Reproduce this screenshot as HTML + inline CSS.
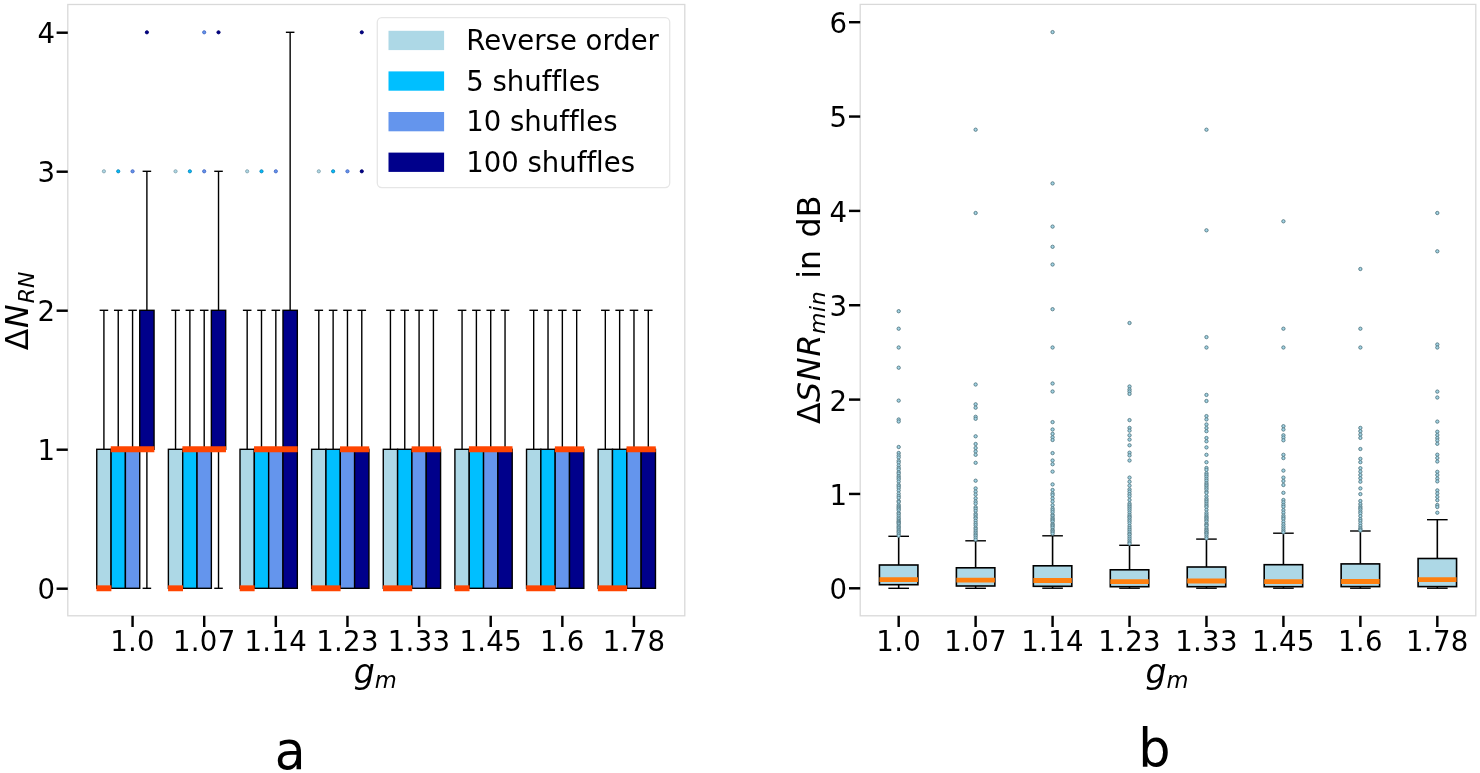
<!DOCTYPE html>
<html lang="en"><head><meta charset="utf-8"><title>Figure</title>
<style>html,body{margin:0;padding:0;background:#fff}body{width:1480px;height:773px;overflow:hidden}</style>
</head><body>
<svg width="1480" height="773" viewBox="0 0 1480 773" style="display:block;will-change:transform;font-variant-ligatures:none;font-family:'DejaVu Sans', 'Liberation Sans', sans-serif">
<rect x="0" y="0" width="1480" height="773" fill="#ffffff"/>
<g id="axA">
<line x1="103.91" y1="449.30" x2="103.91" y2="310.30" stroke="#000" stroke-width="1.4"/>
<line x1="100.33" y1="310.30" x2="107.50" y2="310.30" stroke="#000" stroke-width="1.4" stroke-linecap="square"/>
<line x1="100.33" y1="588.30" x2="107.50" y2="588.30" stroke="#000" stroke-width="1.4" stroke-linecap="square"/>
<rect x="96.75" y="449.30" width="14.33" height="139.00" fill="#add8e6" stroke="#000" stroke-width="1.4"/>
<circle cx="103.91" cy="171.30" r="1.6" fill="#add8e6" stroke="#86a5b0" stroke-width="0.9"/>
<line x1="118.24" y1="449.30" x2="118.24" y2="310.30" stroke="#000" stroke-width="1.4"/>
<line x1="114.66" y1="310.30" x2="121.82" y2="310.30" stroke="#000" stroke-width="1.4" stroke-linecap="square"/>
<line x1="114.66" y1="588.30" x2="121.82" y2="588.30" stroke="#000" stroke-width="1.4" stroke-linecap="square"/>
<rect x="111.08" y="449.30" width="14.33" height="139.00" fill="#00bfff" stroke="#000" stroke-width="1.4"/>
<circle cx="118.24" cy="171.30" r="1.6" fill="#00bfff" stroke="#0f84b8" stroke-width="0.9"/>
<line x1="132.57" y1="449.30" x2="132.57" y2="310.30" stroke="#000" stroke-width="1.4"/>
<line x1="128.99" y1="310.30" x2="136.15" y2="310.30" stroke="#000" stroke-width="1.4" stroke-linecap="square"/>
<line x1="128.99" y1="588.30" x2="136.15" y2="588.30" stroke="#000" stroke-width="1.4" stroke-linecap="square"/>
<rect x="125.40" y="449.30" width="14.33" height="139.00" fill="#6495ed" stroke="#000" stroke-width="1.4"/>
<circle cx="132.57" cy="171.30" r="1.6" fill="#6495ed" stroke="#4468c4" stroke-width="0.9"/>
<line x1="146.89" y1="310.30" x2="146.89" y2="171.30" stroke="#000" stroke-width="1.4"/>
<line x1="143.31" y1="171.30" x2="150.47" y2="171.30" stroke="#000" stroke-width="1.4" stroke-linecap="square"/>
<line x1="146.89" y1="449.30" x2="146.89" y2="588.30" stroke="#000" stroke-width="1.4"/>
<line x1="143.31" y1="588.30" x2="150.47" y2="588.30" stroke="#000" stroke-width="1.4" stroke-linecap="square"/>
<rect x="139.73" y="310.30" width="14.33" height="139.00" fill="#00008b" stroke="#000" stroke-width="1.4"/>
<circle cx="146.89" cy="32.30" r="1.6" fill="#00008b" stroke="#00006a" stroke-width="0.9"/>
<line x1="175.54" y1="449.30" x2="175.54" y2="310.30" stroke="#000" stroke-width="1.4"/>
<line x1="171.96" y1="310.30" x2="179.13" y2="310.30" stroke="#000" stroke-width="1.4" stroke-linecap="square"/>
<line x1="171.96" y1="588.30" x2="179.13" y2="588.30" stroke="#000" stroke-width="1.4" stroke-linecap="square"/>
<rect x="168.38" y="449.30" width="14.33" height="139.00" fill="#add8e6" stroke="#000" stroke-width="1.4"/>
<circle cx="175.54" cy="171.30" r="1.6" fill="#add8e6" stroke="#86a5b0" stroke-width="0.9"/>
<line x1="189.87" y1="449.30" x2="189.87" y2="310.30" stroke="#000" stroke-width="1.4"/>
<line x1="186.29" y1="310.30" x2="193.45" y2="310.30" stroke="#000" stroke-width="1.4" stroke-linecap="square"/>
<line x1="186.29" y1="588.30" x2="193.45" y2="588.30" stroke="#000" stroke-width="1.4" stroke-linecap="square"/>
<rect x="182.71" y="449.30" width="14.33" height="139.00" fill="#00bfff" stroke="#000" stroke-width="1.4"/>
<circle cx="189.87" cy="171.30" r="1.6" fill="#00bfff" stroke="#0f84b8" stroke-width="0.9"/>
<line x1="204.20" y1="449.30" x2="204.20" y2="310.30" stroke="#000" stroke-width="1.4"/>
<line x1="200.62" y1="310.30" x2="207.78" y2="310.30" stroke="#000" stroke-width="1.4" stroke-linecap="square"/>
<line x1="200.62" y1="588.30" x2="207.78" y2="588.30" stroke="#000" stroke-width="1.4" stroke-linecap="square"/>
<rect x="197.03" y="449.30" width="14.33" height="139.00" fill="#6495ed" stroke="#000" stroke-width="1.4"/>
<circle cx="204.20" cy="171.30" r="1.6" fill="#6495ed" stroke="#4468c4" stroke-width="0.9"/>
<circle cx="204.20" cy="32.30" r="1.6" fill="#6495ed" stroke="#4468c4" stroke-width="0.9"/>
<line x1="218.52" y1="310.30" x2="218.52" y2="171.30" stroke="#000" stroke-width="1.4"/>
<line x1="214.94" y1="171.30" x2="222.10" y2="171.30" stroke="#000" stroke-width="1.4" stroke-linecap="square"/>
<line x1="218.52" y1="449.30" x2="218.52" y2="588.30" stroke="#000" stroke-width="1.4"/>
<line x1="214.94" y1="588.30" x2="222.10" y2="588.30" stroke="#000" stroke-width="1.4" stroke-linecap="square"/>
<rect x="211.36" y="310.30" width="14.33" height="139.00" fill="#00008b" stroke="#000" stroke-width="1.4"/>
<circle cx="218.52" cy="32.30" r="1.6" fill="#00008b" stroke="#00006a" stroke-width="0.9"/>
<line x1="247.17" y1="449.30" x2="247.17" y2="310.30" stroke="#000" stroke-width="1.4"/>
<line x1="243.59" y1="310.30" x2="250.76" y2="310.30" stroke="#000" stroke-width="1.4" stroke-linecap="square"/>
<line x1="243.59" y1="588.30" x2="250.76" y2="588.30" stroke="#000" stroke-width="1.4" stroke-linecap="square"/>
<rect x="240.01" y="449.30" width="14.33" height="139.00" fill="#add8e6" stroke="#000" stroke-width="1.4"/>
<circle cx="247.17" cy="171.30" r="1.6" fill="#add8e6" stroke="#86a5b0" stroke-width="0.9"/>
<line x1="261.50" y1="449.30" x2="261.50" y2="310.30" stroke="#000" stroke-width="1.4"/>
<line x1="257.92" y1="310.30" x2="265.08" y2="310.30" stroke="#000" stroke-width="1.4" stroke-linecap="square"/>
<line x1="257.92" y1="588.30" x2="265.08" y2="588.30" stroke="#000" stroke-width="1.4" stroke-linecap="square"/>
<rect x="254.34" y="449.30" width="14.33" height="139.00" fill="#00bfff" stroke="#000" stroke-width="1.4"/>
<circle cx="261.50" cy="171.30" r="1.6" fill="#00bfff" stroke="#0f84b8" stroke-width="0.9"/>
<line x1="275.83" y1="449.30" x2="275.83" y2="310.30" stroke="#000" stroke-width="1.4"/>
<line x1="272.25" y1="310.30" x2="279.41" y2="310.30" stroke="#000" stroke-width="1.4" stroke-linecap="square"/>
<line x1="272.25" y1="588.30" x2="279.41" y2="588.30" stroke="#000" stroke-width="1.4" stroke-linecap="square"/>
<rect x="268.66" y="449.30" width="14.33" height="139.00" fill="#6495ed" stroke="#000" stroke-width="1.4"/>
<circle cx="275.83" cy="171.30" r="1.6" fill="#6495ed" stroke="#4468c4" stroke-width="0.9"/>
<line x1="290.15" y1="310.30" x2="290.15" y2="32.30" stroke="#000" stroke-width="1.4"/>
<line x1="286.57" y1="32.30" x2="293.73" y2="32.30" stroke="#000" stroke-width="1.4" stroke-linecap="square"/>
<line x1="286.57" y1="588.30" x2="293.73" y2="588.30" stroke="#000" stroke-width="1.4" stroke-linecap="square"/>
<rect x="282.99" y="310.30" width="14.33" height="278.00" fill="#00008b" stroke="#000" stroke-width="1.4"/>
<line x1="318.80" y1="449.30" x2="318.80" y2="310.30" stroke="#000" stroke-width="1.4"/>
<line x1="315.22" y1="310.30" x2="322.39" y2="310.30" stroke="#000" stroke-width="1.4" stroke-linecap="square"/>
<line x1="315.22" y1="588.30" x2="322.39" y2="588.30" stroke="#000" stroke-width="1.4" stroke-linecap="square"/>
<rect x="311.64" y="449.30" width="14.33" height="139.00" fill="#add8e6" stroke="#000" stroke-width="1.4"/>
<circle cx="318.80" cy="171.30" r="1.6" fill="#add8e6" stroke="#86a5b0" stroke-width="0.9"/>
<line x1="333.13" y1="449.30" x2="333.13" y2="310.30" stroke="#000" stroke-width="1.4"/>
<line x1="329.55" y1="310.30" x2="336.71" y2="310.30" stroke="#000" stroke-width="1.4" stroke-linecap="square"/>
<line x1="329.55" y1="588.30" x2="336.71" y2="588.30" stroke="#000" stroke-width="1.4" stroke-linecap="square"/>
<rect x="325.97" y="449.30" width="14.33" height="139.00" fill="#00bfff" stroke="#000" stroke-width="1.4"/>
<circle cx="333.13" cy="171.30" r="1.6" fill="#00bfff" stroke="#0f84b8" stroke-width="0.9"/>
<line x1="347.46" y1="449.30" x2="347.46" y2="310.30" stroke="#000" stroke-width="1.4"/>
<line x1="343.88" y1="310.30" x2="351.04" y2="310.30" stroke="#000" stroke-width="1.4" stroke-linecap="square"/>
<line x1="343.88" y1="588.30" x2="351.04" y2="588.30" stroke="#000" stroke-width="1.4" stroke-linecap="square"/>
<rect x="340.29" y="449.30" width="14.33" height="139.00" fill="#6495ed" stroke="#000" stroke-width="1.4"/>
<circle cx="347.46" cy="171.30" r="1.6" fill="#6495ed" stroke="#4468c4" stroke-width="0.9"/>
<line x1="361.78" y1="449.30" x2="361.78" y2="310.30" stroke="#000" stroke-width="1.4"/>
<line x1="358.20" y1="310.30" x2="365.36" y2="310.30" stroke="#000" stroke-width="1.4" stroke-linecap="square"/>
<line x1="358.20" y1="588.30" x2="365.36" y2="588.30" stroke="#000" stroke-width="1.4" stroke-linecap="square"/>
<rect x="354.62" y="449.30" width="14.33" height="139.00" fill="#00008b" stroke="#000" stroke-width="1.4"/>
<circle cx="361.78" cy="171.30" r="1.6" fill="#00008b" stroke="#00006a" stroke-width="0.9"/>
<circle cx="361.78" cy="32.30" r="1.6" fill="#00008b" stroke="#00006a" stroke-width="0.9"/>
<line x1="390.43" y1="449.30" x2="390.43" y2="310.30" stroke="#000" stroke-width="1.4"/>
<line x1="386.85" y1="310.30" x2="394.02" y2="310.30" stroke="#000" stroke-width="1.4" stroke-linecap="square"/>
<line x1="386.85" y1="588.30" x2="394.02" y2="588.30" stroke="#000" stroke-width="1.4" stroke-linecap="square"/>
<rect x="383.27" y="449.30" width="14.33" height="139.00" fill="#add8e6" stroke="#000" stroke-width="1.4"/>
<line x1="404.76" y1="449.30" x2="404.76" y2="310.30" stroke="#000" stroke-width="1.4"/>
<line x1="401.18" y1="310.30" x2="408.34" y2="310.30" stroke="#000" stroke-width="1.4" stroke-linecap="square"/>
<line x1="401.18" y1="588.30" x2="408.34" y2="588.30" stroke="#000" stroke-width="1.4" stroke-linecap="square"/>
<rect x="397.60" y="449.30" width="14.33" height="139.00" fill="#00bfff" stroke="#000" stroke-width="1.4"/>
<line x1="419.09" y1="449.30" x2="419.09" y2="310.30" stroke="#000" stroke-width="1.4"/>
<line x1="415.51" y1="310.30" x2="422.67" y2="310.30" stroke="#000" stroke-width="1.4" stroke-linecap="square"/>
<line x1="415.51" y1="588.30" x2="422.67" y2="588.30" stroke="#000" stroke-width="1.4" stroke-linecap="square"/>
<rect x="411.92" y="449.30" width="14.33" height="139.00" fill="#6495ed" stroke="#000" stroke-width="1.4"/>
<line x1="433.41" y1="449.30" x2="433.41" y2="310.30" stroke="#000" stroke-width="1.4"/>
<line x1="429.83" y1="310.30" x2="436.99" y2="310.30" stroke="#000" stroke-width="1.4" stroke-linecap="square"/>
<line x1="429.83" y1="588.30" x2="436.99" y2="588.30" stroke="#000" stroke-width="1.4" stroke-linecap="square"/>
<rect x="426.25" y="449.30" width="14.33" height="139.00" fill="#00008b" stroke="#000" stroke-width="1.4"/>
<line x1="462.06" y1="449.30" x2="462.06" y2="310.30" stroke="#000" stroke-width="1.4"/>
<line x1="458.48" y1="310.30" x2="465.65" y2="310.30" stroke="#000" stroke-width="1.4" stroke-linecap="square"/>
<line x1="458.48" y1="588.30" x2="465.65" y2="588.30" stroke="#000" stroke-width="1.4" stroke-linecap="square"/>
<rect x="454.90" y="449.30" width="14.33" height="139.00" fill="#add8e6" stroke="#000" stroke-width="1.4"/>
<line x1="476.39" y1="449.30" x2="476.39" y2="310.30" stroke="#000" stroke-width="1.4"/>
<line x1="472.81" y1="310.30" x2="479.97" y2="310.30" stroke="#000" stroke-width="1.4" stroke-linecap="square"/>
<line x1="472.81" y1="588.30" x2="479.97" y2="588.30" stroke="#000" stroke-width="1.4" stroke-linecap="square"/>
<rect x="469.23" y="449.30" width="14.33" height="139.00" fill="#00bfff" stroke="#000" stroke-width="1.4"/>
<line x1="490.72" y1="449.30" x2="490.72" y2="310.30" stroke="#000" stroke-width="1.4"/>
<line x1="487.14" y1="310.30" x2="494.30" y2="310.30" stroke="#000" stroke-width="1.4" stroke-linecap="square"/>
<line x1="487.14" y1="588.30" x2="494.30" y2="588.30" stroke="#000" stroke-width="1.4" stroke-linecap="square"/>
<rect x="483.55" y="449.30" width="14.33" height="139.00" fill="#6495ed" stroke="#000" stroke-width="1.4"/>
<line x1="505.04" y1="449.30" x2="505.04" y2="310.30" stroke="#000" stroke-width="1.4"/>
<line x1="501.46" y1="310.30" x2="508.62" y2="310.30" stroke="#000" stroke-width="1.4" stroke-linecap="square"/>
<line x1="501.46" y1="588.30" x2="508.62" y2="588.30" stroke="#000" stroke-width="1.4" stroke-linecap="square"/>
<rect x="497.88" y="449.30" width="14.33" height="139.00" fill="#00008b" stroke="#000" stroke-width="1.4"/>
<line x1="533.69" y1="449.30" x2="533.69" y2="310.30" stroke="#000" stroke-width="1.4"/>
<line x1="530.11" y1="310.30" x2="537.28" y2="310.30" stroke="#000" stroke-width="1.4" stroke-linecap="square"/>
<line x1="530.11" y1="588.30" x2="537.28" y2="588.30" stroke="#000" stroke-width="1.4" stroke-linecap="square"/>
<rect x="526.53" y="449.30" width="14.33" height="139.00" fill="#add8e6" stroke="#000" stroke-width="1.4"/>
<line x1="548.02" y1="449.30" x2="548.02" y2="310.30" stroke="#000" stroke-width="1.4"/>
<line x1="544.44" y1="310.30" x2="551.60" y2="310.30" stroke="#000" stroke-width="1.4" stroke-linecap="square"/>
<line x1="544.44" y1="588.30" x2="551.60" y2="588.30" stroke="#000" stroke-width="1.4" stroke-linecap="square"/>
<rect x="540.86" y="449.30" width="14.33" height="139.00" fill="#00bfff" stroke="#000" stroke-width="1.4"/>
<line x1="562.35" y1="449.30" x2="562.35" y2="310.30" stroke="#000" stroke-width="1.4"/>
<line x1="558.77" y1="310.30" x2="565.93" y2="310.30" stroke="#000" stroke-width="1.4" stroke-linecap="square"/>
<line x1="558.77" y1="588.30" x2="565.93" y2="588.30" stroke="#000" stroke-width="1.4" stroke-linecap="square"/>
<rect x="555.18" y="449.30" width="14.33" height="139.00" fill="#6495ed" stroke="#000" stroke-width="1.4"/>
<line x1="576.67" y1="449.30" x2="576.67" y2="310.30" stroke="#000" stroke-width="1.4"/>
<line x1="573.09" y1="310.30" x2="580.25" y2="310.30" stroke="#000" stroke-width="1.4" stroke-linecap="square"/>
<line x1="573.09" y1="588.30" x2="580.25" y2="588.30" stroke="#000" stroke-width="1.4" stroke-linecap="square"/>
<rect x="569.51" y="449.30" width="14.33" height="139.00" fill="#00008b" stroke="#000" stroke-width="1.4"/>
<line x1="605.32" y1="449.30" x2="605.32" y2="310.30" stroke="#000" stroke-width="1.4"/>
<line x1="601.74" y1="310.30" x2="608.91" y2="310.30" stroke="#000" stroke-width="1.4" stroke-linecap="square"/>
<line x1="601.74" y1="588.30" x2="608.91" y2="588.30" stroke="#000" stroke-width="1.4" stroke-linecap="square"/>
<rect x="598.16" y="449.30" width="14.33" height="139.00" fill="#add8e6" stroke="#000" stroke-width="1.4"/>
<line x1="619.65" y1="449.30" x2="619.65" y2="310.30" stroke="#000" stroke-width="1.4"/>
<line x1="616.07" y1="310.30" x2="623.23" y2="310.30" stroke="#000" stroke-width="1.4" stroke-linecap="square"/>
<line x1="616.07" y1="588.30" x2="623.23" y2="588.30" stroke="#000" stroke-width="1.4" stroke-linecap="square"/>
<rect x="612.49" y="449.30" width="14.33" height="139.00" fill="#00bfff" stroke="#000" stroke-width="1.4"/>
<line x1="633.98" y1="449.30" x2="633.98" y2="310.30" stroke="#000" stroke-width="1.4"/>
<line x1="630.40" y1="310.30" x2="637.56" y2="310.30" stroke="#000" stroke-width="1.4" stroke-linecap="square"/>
<line x1="630.40" y1="588.30" x2="637.56" y2="588.30" stroke="#000" stroke-width="1.4" stroke-linecap="square"/>
<rect x="626.81" y="449.30" width="14.33" height="139.00" fill="#6495ed" stroke="#000" stroke-width="1.4"/>
<line x1="648.30" y1="449.30" x2="648.30" y2="310.30" stroke="#000" stroke-width="1.4"/>
<line x1="644.72" y1="310.30" x2="651.88" y2="310.30" stroke="#000" stroke-width="1.4" stroke-linecap="square"/>
<line x1="644.72" y1="588.30" x2="651.88" y2="588.30" stroke="#000" stroke-width="1.4" stroke-linecap="square"/>
<rect x="641.14" y="449.30" width="14.33" height="139.00" fill="#00008b" stroke="#000" stroke-width="1.4"/>
<line x1="96.45" y1="588.30" x2="111.38" y2="588.30" stroke="#ff4500" stroke-width="5.9"/>
<line x1="110.78" y1="449.30" x2="154.36" y2="449.30" stroke="#ff4500" stroke-width="5.9"/>
<line x1="168.08" y1="588.30" x2="183.01" y2="588.30" stroke="#ff4500" stroke-width="5.9"/>
<line x1="182.41" y1="449.30" x2="225.99" y2="449.30" stroke="#ff4500" stroke-width="5.9"/>
<line x1="239.71" y1="588.30" x2="254.64" y2="588.30" stroke="#ff4500" stroke-width="5.9"/>
<line x1="254.04" y1="449.30" x2="297.62" y2="449.30" stroke="#ff4500" stroke-width="5.9"/>
<line x1="311.34" y1="588.30" x2="340.59" y2="588.30" stroke="#ff4500" stroke-width="5.9"/>
<line x1="339.99" y1="449.30" x2="369.25" y2="449.30" stroke="#ff4500" stroke-width="5.9"/>
<line x1="382.97" y1="588.30" x2="412.22" y2="588.30" stroke="#ff4500" stroke-width="5.9"/>
<line x1="411.62" y1="449.30" x2="440.88" y2="449.30" stroke="#ff4500" stroke-width="5.9"/>
<line x1="454.60" y1="588.30" x2="469.53" y2="588.30" stroke="#ff4500" stroke-width="5.9"/>
<line x1="468.93" y1="449.30" x2="512.51" y2="449.30" stroke="#ff4500" stroke-width="5.9"/>
<line x1="526.23" y1="588.30" x2="555.48" y2="588.30" stroke="#ff4500" stroke-width="5.9"/>
<line x1="554.88" y1="449.30" x2="584.14" y2="449.30" stroke="#ff4500" stroke-width="5.9"/>
<line x1="597.86" y1="588.30" x2="627.11" y2="588.30" stroke="#ff4500" stroke-width="5.9"/>
<line x1="626.51" y1="449.30" x2="655.77" y2="449.30" stroke="#ff4500" stroke-width="5.9"/>
</g>
<g id="legend">
<rect x="377.3" y="17.6" width="292.4" height="170" rx="4.5" ry="4.5" fill="#ffffff" fill-opacity="0.8" stroke="#e6e6e6" stroke-width="1.3"/>
<rect x="388.5" y="30.80" width="55.6" height="19.3" fill="#add8e6"/>
<text x="466.3" y="50.10" font-size="27.5" letter-spacing="0.0" fill="#000">Reverse order</text>
<rect x="388.5" y="71.40" width="55.6" height="19.3" fill="#00bfff"/>
<text x="466.3" y="90.70" font-size="27.5" letter-spacing="0.0" fill="#000">5 shuffles</text>
<rect x="388.5" y="112.00" width="55.6" height="19.3" fill="#6495ed"/>
<text x="466.3" y="131.30" font-size="27.5" letter-spacing="0.0" fill="#000">10 shuffles</text>
<rect x="388.5" y="152.60" width="55.6" height="19.3" fill="#00008b"/>
<text x="466.3" y="171.90" font-size="27.5" letter-spacing="0.0" fill="#000">100 shuffles</text>
</g>
<rect x="67.8" y="4.5" width="617.00" height="611.30" fill="none" stroke="#d9d9d9" stroke-width="1.3"/>
<line x1="132.57" y1="615.8" x2="132.57" y2="627.0" stroke="#000" stroke-width="2.45"/>
<text x="132.57" y="650.8" font-size="27.6" text-anchor="middle" letter-spacing="0.3" fill="#000">1.0</text>
<line x1="204.20" y1="615.8" x2="204.20" y2="627.0" stroke="#000" stroke-width="2.45"/>
<text x="204.20" y="650.8" font-size="27.6" text-anchor="middle" letter-spacing="0.3" fill="#000">1.07</text>
<line x1="275.83" y1="615.8" x2="275.83" y2="627.0" stroke="#000" stroke-width="2.45"/>
<text x="275.83" y="650.8" font-size="27.6" text-anchor="middle" letter-spacing="0.3" fill="#000">1.14</text>
<line x1="347.46" y1="615.8" x2="347.46" y2="627.0" stroke="#000" stroke-width="2.45"/>
<text x="347.46" y="650.8" font-size="27.6" text-anchor="middle" letter-spacing="0.3" fill="#000">1.23</text>
<line x1="419.09" y1="615.8" x2="419.09" y2="627.0" stroke="#000" stroke-width="2.45"/>
<text x="419.09" y="650.8" font-size="27.6" text-anchor="middle" letter-spacing="0.3" fill="#000">1.33</text>
<line x1="490.72" y1="615.8" x2="490.72" y2="627.0" stroke="#000" stroke-width="2.45"/>
<text x="490.72" y="650.8" font-size="27.6" text-anchor="middle" letter-spacing="0.3" fill="#000">1.45</text>
<line x1="562.35" y1="615.8" x2="562.35" y2="627.0" stroke="#000" stroke-width="2.45"/>
<text x="562.35" y="650.8" font-size="27.6" text-anchor="middle" letter-spacing="0.3" fill="#000">1.6</text>
<line x1="633.98" y1="615.8" x2="633.98" y2="627.0" stroke="#000" stroke-width="2.45"/>
<text x="633.98" y="650.8" font-size="27.6" text-anchor="middle" letter-spacing="0.3" fill="#000">1.78</text>
<line x1="56.599999999999994" y1="588.70" x2="67.8" y2="588.70" stroke="#000" stroke-width="2.45"/>
<text x="55.0" y="599.20" font-size="27.6" text-anchor="end" fill="#000">0</text>
<line x1="56.599999999999994" y1="449.70" x2="67.8" y2="449.70" stroke="#000" stroke-width="2.45"/>
<text x="55.0" y="460.20" font-size="27.6" text-anchor="end" fill="#000">1</text>
<line x1="56.599999999999994" y1="310.70" x2="67.8" y2="310.70" stroke="#000" stroke-width="2.45"/>
<text x="55.0" y="321.20" font-size="27.6" text-anchor="end" fill="#000">2</text>
<line x1="56.599999999999994" y1="171.70" x2="67.8" y2="171.70" stroke="#000" stroke-width="2.45"/>
<text x="55.0" y="182.20" font-size="27.6" text-anchor="end" fill="#000">3</text>
<line x1="56.599999999999994" y1="32.70" x2="67.8" y2="32.70" stroke="#000" stroke-width="2.45"/>
<text x="55.0" y="43.20" font-size="27.6" text-anchor="end" fill="#000">4</text>
<text x="375.3" y="683" font-size="33.3" text-anchor="middle" fill="#000"><tspan font-style="italic">g</tspan><tspan font-style="italic" font-size="22.6" dy="5">m</tspan></text>
<text transform="translate(28.0,350.3) rotate(-90)" font-size="31.6" fill="#000"><tspan x="0">Δ</tspan><tspan font-style="italic" x="22.4" dy="-0.1">N</tspan><tspan font-style="italic" font-size="22.0" x="47.0" dy="6.1">RN</tspan></text>
<g id="axB">
<line x1="898.68" y1="565.0" x2="898.68" y2="536.3" stroke="#000" stroke-width="1.6"/>
<line x1="898.68" y1="584.7" x2="898.68" y2="588.3" stroke="#000" stroke-width="1.6"/>
<line x1="889.06" y1="536.3" x2="908.29" y2="536.3" stroke="#000" stroke-width="1.4" stroke-linecap="square"/>
<line x1="889.06" y1="588.3" x2="908.29" y2="588.3" stroke="#000" stroke-width="1.4" stroke-linecap="square"/>
<rect x="879.44" y="565.0" width="38.48" height="19.70" fill="#add8e6" stroke="#000" stroke-width="1.6"/>
<line x1="879.44" y1="579.7" x2="917.91" y2="579.7" stroke="#ff7f0e" stroke-width="4.8"/>
<circle cx="898.68" cy="311.2" r="1.65" fill="#a2d5e7" stroke="#5a7c86" stroke-width="0.95"/>
<circle cx="898.68" cy="328.7" r="1.65" fill="#a2d5e7" stroke="#5a7c86" stroke-width="0.95"/>
<circle cx="898.68" cy="347.5" r="1.65" fill="#a2d5e7" stroke="#5a7c86" stroke-width="0.95"/>
<circle cx="898.68" cy="367.7" r="1.65" fill="#a2d5e7" stroke="#5a7c86" stroke-width="0.95"/>
<circle cx="898.68" cy="400.6" r="1.65" fill="#a2d5e7" stroke="#5a7c86" stroke-width="0.95"/>
<circle cx="898.68" cy="419.5" r="1.65" fill="#a2d5e7" stroke="#5a7c86" stroke-width="0.95"/>
<circle cx="898.68" cy="421.5" r="1.65" fill="#a2d5e7" stroke="#5a7c86" stroke-width="0.95"/>
<circle cx="898.68" cy="447.0" r="1.65" fill="#a2d5e7" stroke="#5a7c86" stroke-width="0.95"/>
<circle cx="898.68" cy="453" r="1.65" fill="#a2d5e7" stroke="#5a7c86" stroke-width="0.95"/>
<circle cx="898.68" cy="455.5" r="1.65" fill="#a2d5e7" stroke="#5a7c86" stroke-width="0.95"/>
<circle cx="898.68" cy="457.5" r="1.65" fill="#a2d5e7" stroke="#5a7c86" stroke-width="0.95"/>
<circle cx="898.68" cy="460.8" r="1.65" fill="#a2d5e7" stroke="#5a7c86" stroke-width="0.95"/>
<circle cx="898.68" cy="462.6" r="1.65" fill="#a2d5e7" stroke="#5a7c86" stroke-width="0.95"/>
<circle cx="898.68" cy="465.5" r="1.65" fill="#a2d5e7" stroke="#5a7c86" stroke-width="0.95"/>
<circle cx="898.68" cy="467.9" r="1.65" fill="#a2d5e7" stroke="#5a7c86" stroke-width="0.95"/>
<circle cx="898.68" cy="469.5" r="1.65" fill="#a2d5e7" stroke="#5a7c86" stroke-width="0.95"/>
<circle cx="898.68" cy="472.2" r="1.65" fill="#a2d5e7" stroke="#5a7c86" stroke-width="0.95"/>
<circle cx="898.68" cy="473.7" r="1.65" fill="#a2d5e7" stroke="#5a7c86" stroke-width="0.95"/>
<circle cx="898.68" cy="476.1" r="1.65" fill="#a2d5e7" stroke="#5a7c86" stroke-width="0.95"/>
<circle cx="898.68" cy="477.7" r="1.65" fill="#a2d5e7" stroke="#5a7c86" stroke-width="0.95"/>
<circle cx="898.68" cy="479.3" r="1.65" fill="#a2d5e7" stroke="#5a7c86" stroke-width="0.95"/>
<circle cx="898.68" cy="481.6" r="1.65" fill="#a2d5e7" stroke="#5a7c86" stroke-width="0.95"/>
<circle cx="898.68" cy="484.7" r="1.65" fill="#a2d5e7" stroke="#5a7c86" stroke-width="0.95"/>
<circle cx="898.68" cy="486.2" r="1.65" fill="#a2d5e7" stroke="#5a7c86" stroke-width="0.95"/>
<circle cx="898.68" cy="488.0" r="1.65" fill="#a2d5e7" stroke="#5a7c86" stroke-width="0.95"/>
<circle cx="898.68" cy="490.5" r="1.65" fill="#a2d5e7" stroke="#5a7c86" stroke-width="0.95"/>
<circle cx="898.68" cy="493.6" r="1.65" fill="#a2d5e7" stroke="#5a7c86" stroke-width="0.95"/>
<circle cx="898.68" cy="496.0" r="1.65" fill="#a2d5e7" stroke="#5a7c86" stroke-width="0.95"/>
<circle cx="898.68" cy="497.9" r="1.65" fill="#a2d5e7" stroke="#5a7c86" stroke-width="0.95"/>
<circle cx="898.68" cy="500.9" r="1.65" fill="#a2d5e7" stroke="#5a7c86" stroke-width="0.95"/>
<circle cx="898.68" cy="502.0" r="1.65" fill="#a2d5e7" stroke="#5a7c86" stroke-width="0.95"/>
<circle cx="898.68" cy="504.7" r="1.65" fill="#a2d5e7" stroke="#5a7c86" stroke-width="0.95"/>
<circle cx="898.68" cy="506.3" r="1.65" fill="#a2d5e7" stroke="#5a7c86" stroke-width="0.95"/>
<circle cx="898.68" cy="507.6" r="1.65" fill="#a2d5e7" stroke="#5a7c86" stroke-width="0.95"/>
<circle cx="898.68" cy="508.8" r="1.65" fill="#a2d5e7" stroke="#5a7c86" stroke-width="0.95"/>
<circle cx="898.68" cy="510.3" r="1.65" fill="#a2d5e7" stroke="#5a7c86" stroke-width="0.95"/>
<circle cx="898.68" cy="512.7" r="1.65" fill="#a2d5e7" stroke="#5a7c86" stroke-width="0.95"/>
<circle cx="898.68" cy="513.9" r="1.65" fill="#a2d5e7" stroke="#5a7c86" stroke-width="0.95"/>
<circle cx="898.68" cy="515.8" r="1.65" fill="#a2d5e7" stroke="#5a7c86" stroke-width="0.95"/>
<circle cx="898.68" cy="517.7" r="1.65" fill="#a2d5e7" stroke="#5a7c86" stroke-width="0.95"/>
<circle cx="898.68" cy="519.2" r="1.65" fill="#a2d5e7" stroke="#5a7c86" stroke-width="0.95"/>
<circle cx="898.68" cy="520.9" r="1.65" fill="#a2d5e7" stroke="#5a7c86" stroke-width="0.95"/>
<circle cx="898.68" cy="521.9" r="1.65" fill="#a2d5e7" stroke="#5a7c86" stroke-width="0.95"/>
<circle cx="898.68" cy="522.9" r="1.65" fill="#a2d5e7" stroke="#5a7c86" stroke-width="0.95"/>
<circle cx="898.68" cy="524.0" r="1.65" fill="#a2d5e7" stroke="#5a7c86" stroke-width="0.95"/>
<circle cx="898.68" cy="525.8" r="1.65" fill="#a2d5e7" stroke="#5a7c86" stroke-width="0.95"/>
<circle cx="898.68" cy="527.2" r="1.65" fill="#a2d5e7" stroke="#5a7c86" stroke-width="0.95"/>
<circle cx="898.68" cy="528.4" r="1.65" fill="#a2d5e7" stroke="#5a7c86" stroke-width="0.95"/>
<circle cx="898.68" cy="530.0" r="1.65" fill="#a2d5e7" stroke="#5a7c86" stroke-width="0.95"/>
<circle cx="898.68" cy="531.4" r="1.65" fill="#a2d5e7" stroke="#5a7c86" stroke-width="0.95"/>
<circle cx="898.68" cy="532.5" r="1.65" fill="#a2d5e7" stroke="#5a7c86" stroke-width="0.95"/>
<circle cx="898.68" cy="534.2" r="1.65" fill="#a2d5e7" stroke="#5a7c86" stroke-width="0.95"/>
<circle cx="898.68" cy="535.8" r="1.65" fill="#a2d5e7" stroke="#5a7c86" stroke-width="0.95"/>
<line x1="975.62" y1="567.8" x2="975.62" y2="540.8" stroke="#000" stroke-width="1.6"/>
<line x1="975.62" y1="586.0" x2="975.62" y2="588.3" stroke="#000" stroke-width="1.6"/>
<line x1="966.01" y1="540.8" x2="985.24" y2="540.8" stroke="#000" stroke-width="1.4" stroke-linecap="square"/>
<line x1="966.01" y1="588.3" x2="985.24" y2="588.3" stroke="#000" stroke-width="1.4" stroke-linecap="square"/>
<rect x="956.39" y="567.8" width="38.47" height="18.20" fill="#add8e6" stroke="#000" stroke-width="1.6"/>
<line x1="956.39" y1="580.2" x2="994.86" y2="580.2" stroke="#ff7f0e" stroke-width="4.8"/>
<circle cx="975.62" cy="129.7" r="1.65" fill="#a2d5e7" stroke="#5a7c86" stroke-width="0.95"/>
<circle cx="975.62" cy="213.0" r="1.65" fill="#a2d5e7" stroke="#5a7c86" stroke-width="0.95"/>
<circle cx="975.62" cy="384.5" r="1.65" fill="#a2d5e7" stroke="#5a7c86" stroke-width="0.95"/>
<circle cx="975.62" cy="404.3" r="1.65" fill="#a2d5e7" stroke="#5a7c86" stroke-width="0.95"/>
<circle cx="975.62" cy="407.7" r="1.65" fill="#a2d5e7" stroke="#5a7c86" stroke-width="0.95"/>
<circle cx="975.62" cy="416.8" r="1.65" fill="#a2d5e7" stroke="#5a7c86" stroke-width="0.95"/>
<circle cx="975.62" cy="418.8" r="1.65" fill="#a2d5e7" stroke="#5a7c86" stroke-width="0.95"/>
<circle cx="975.62" cy="436.3" r="1.65" fill="#a2d5e7" stroke="#5a7c86" stroke-width="0.95"/>
<circle cx="975.62" cy="444" r="1.65" fill="#a2d5e7" stroke="#5a7c86" stroke-width="0.95"/>
<circle cx="975.62" cy="448" r="1.65" fill="#a2d5e7" stroke="#5a7c86" stroke-width="0.95"/>
<circle cx="975.62" cy="451.4" r="1.65" fill="#a2d5e7" stroke="#5a7c86" stroke-width="0.95"/>
<circle cx="975.62" cy="454.8" r="1.65" fill="#a2d5e7" stroke="#5a7c86" stroke-width="0.95"/>
<circle cx="975.62" cy="462.8" r="1.65" fill="#a2d5e7" stroke="#5a7c86" stroke-width="0.95"/>
<circle cx="975.62" cy="480.7" r="1.65" fill="#a2d5e7" stroke="#5a7c86" stroke-width="0.95"/>
<circle cx="975.62" cy="488.4" r="1.65" fill="#a2d5e7" stroke="#5a7c86" stroke-width="0.95"/>
<circle cx="975.62" cy="491.6" r="1.65" fill="#a2d5e7" stroke="#5a7c86" stroke-width="0.95"/>
<circle cx="975.62" cy="494.6" r="1.65" fill="#a2d5e7" stroke="#5a7c86" stroke-width="0.95"/>
<circle cx="975.62" cy="498.3" r="1.65" fill="#a2d5e7" stroke="#5a7c86" stroke-width="0.95"/>
<circle cx="975.62" cy="501.5" r="1.65" fill="#a2d5e7" stroke="#5a7c86" stroke-width="0.95"/>
<circle cx="975.62" cy="503.6" r="1.65" fill="#a2d5e7" stroke="#5a7c86" stroke-width="0.95"/>
<circle cx="975.62" cy="507.2" r="1.65" fill="#a2d5e7" stroke="#5a7c86" stroke-width="0.95"/>
<circle cx="975.62" cy="508.8" r="1.65" fill="#a2d5e7" stroke="#5a7c86" stroke-width="0.95"/>
<circle cx="975.62" cy="510.9" r="1.65" fill="#a2d5e7" stroke="#5a7c86" stroke-width="0.95"/>
<circle cx="975.62" cy="513.7" r="1.65" fill="#a2d5e7" stroke="#5a7c86" stroke-width="0.95"/>
<circle cx="975.62" cy="515.2" r="1.65" fill="#a2d5e7" stroke="#5a7c86" stroke-width="0.95"/>
<circle cx="975.62" cy="517.3" r="1.65" fill="#a2d5e7" stroke="#5a7c86" stroke-width="0.95"/>
<circle cx="975.62" cy="518.5" r="1.65" fill="#a2d5e7" stroke="#5a7c86" stroke-width="0.95"/>
<circle cx="975.62" cy="520.8" r="1.65" fill="#a2d5e7" stroke="#5a7c86" stroke-width="0.95"/>
<circle cx="975.62" cy="523.2" r="1.65" fill="#a2d5e7" stroke="#5a7c86" stroke-width="0.95"/>
<circle cx="975.62" cy="525.2" r="1.65" fill="#a2d5e7" stroke="#5a7c86" stroke-width="0.95"/>
<circle cx="975.62" cy="527.6" r="1.65" fill="#a2d5e7" stroke="#5a7c86" stroke-width="0.95"/>
<circle cx="975.62" cy="529.0" r="1.65" fill="#a2d5e7" stroke="#5a7c86" stroke-width="0.95"/>
<circle cx="975.62" cy="531.0" r="1.65" fill="#a2d5e7" stroke="#5a7c86" stroke-width="0.95"/>
<circle cx="975.62" cy="532.7" r="1.65" fill="#a2d5e7" stroke="#5a7c86" stroke-width="0.95"/>
<circle cx="975.62" cy="534.4" r="1.65" fill="#a2d5e7" stroke="#5a7c86" stroke-width="0.95"/>
<circle cx="975.62" cy="535.8" r="1.65" fill="#a2d5e7" stroke="#5a7c86" stroke-width="0.95"/>
<circle cx="975.62" cy="537.7" r="1.65" fill="#a2d5e7" stroke="#5a7c86" stroke-width="0.95"/>
<circle cx="975.62" cy="539.7" r="1.65" fill="#a2d5e7" stroke="#5a7c86" stroke-width="0.95"/>
<line x1="1052.58" y1="565.8" x2="1052.58" y2="535.8" stroke="#000" stroke-width="1.6"/>
<line x1="1052.58" y1="586.3" x2="1052.58" y2="588.2" stroke="#000" stroke-width="1.6"/>
<line x1="1042.96" y1="535.8" x2="1062.19" y2="535.8" stroke="#000" stroke-width="1.4" stroke-linecap="square"/>
<line x1="1042.96" y1="588.2" x2="1062.19" y2="588.2" stroke="#000" stroke-width="1.4" stroke-linecap="square"/>
<rect x="1033.34" y="565.8" width="38.47" height="20.50" fill="#add8e6" stroke="#000" stroke-width="1.6"/>
<line x1="1033.34" y1="580.5" x2="1071.81" y2="580.5" stroke="#ff7f0e" stroke-width="4.8"/>
<circle cx="1052.58" cy="32.1" r="1.65" fill="#a2d5e7" stroke="#5a7c86" stroke-width="0.95"/>
<circle cx="1052.58" cy="183.4" r="1.65" fill="#a2d5e7" stroke="#5a7c86" stroke-width="0.95"/>
<circle cx="1052.58" cy="226.6" r="1.65" fill="#a2d5e7" stroke="#5a7c86" stroke-width="0.95"/>
<circle cx="1052.58" cy="246.8" r="1.65" fill="#a2d5e7" stroke="#5a7c86" stroke-width="0.95"/>
<circle cx="1052.58" cy="264.5" r="1.65" fill="#a2d5e7" stroke="#5a7c86" stroke-width="0.95"/>
<circle cx="1052.58" cy="309.2" r="1.65" fill="#a2d5e7" stroke="#5a7c86" stroke-width="0.95"/>
<circle cx="1052.58" cy="347.5" r="1.65" fill="#a2d5e7" stroke="#5a7c86" stroke-width="0.95"/>
<circle cx="1052.58" cy="383.5" r="1.65" fill="#a2d5e7" stroke="#5a7c86" stroke-width="0.95"/>
<circle cx="1052.58" cy="391.5" r="1.65" fill="#a2d5e7" stroke="#5a7c86" stroke-width="0.95"/>
<circle cx="1052.58" cy="422.1" r="1.65" fill="#a2d5e7" stroke="#5a7c86" stroke-width="0.95"/>
<circle cx="1052.58" cy="429.5" r="1.65" fill="#a2d5e7" stroke="#5a7c86" stroke-width="0.95"/>
<circle cx="1052.58" cy="433.9" r="1.65" fill="#a2d5e7" stroke="#5a7c86" stroke-width="0.95"/>
<circle cx="1052.58" cy="437.3" r="1.65" fill="#a2d5e7" stroke="#5a7c86" stroke-width="0.95"/>
<circle cx="1052.58" cy="440" r="1.65" fill="#a2d5e7" stroke="#5a7c86" stroke-width="0.95"/>
<circle cx="1052.58" cy="453.1" r="1.65" fill="#a2d5e7" stroke="#5a7c86" stroke-width="0.95"/>
<circle cx="1052.58" cy="460.5" r="1.65" fill="#a2d5e7" stroke="#5a7c86" stroke-width="0.95"/>
<circle cx="1052.58" cy="464.2" r="1.65" fill="#a2d5e7" stroke="#5a7c86" stroke-width="0.95"/>
<circle cx="1052.58" cy="471.6" r="1.65" fill="#a2d5e7" stroke="#5a7c86" stroke-width="0.95"/>
<circle cx="1052.58" cy="484.4" r="1.65" fill="#a2d5e7" stroke="#5a7c86" stroke-width="0.95"/>
<circle cx="1052.58" cy="490" r="1.65" fill="#a2d5e7" stroke="#5a7c86" stroke-width="0.95"/>
<circle cx="1052.58" cy="493.4" r="1.65" fill="#a2d5e7" stroke="#5a7c86" stroke-width="0.95"/>
<circle cx="1052.58" cy="495.2" r="1.65" fill="#a2d5e7" stroke="#5a7c86" stroke-width="0.95"/>
<circle cx="1052.58" cy="498.5" r="1.65" fill="#a2d5e7" stroke="#5a7c86" stroke-width="0.95"/>
<circle cx="1052.58" cy="501.5" r="1.65" fill="#a2d5e7" stroke="#5a7c86" stroke-width="0.95"/>
<circle cx="1052.58" cy="505.2" r="1.65" fill="#a2d5e7" stroke="#5a7c86" stroke-width="0.95"/>
<circle cx="1052.58" cy="508.4" r="1.65" fill="#a2d5e7" stroke="#5a7c86" stroke-width="0.95"/>
<circle cx="1052.58" cy="510.2" r="1.65" fill="#a2d5e7" stroke="#5a7c86" stroke-width="0.95"/>
<circle cx="1052.58" cy="512.2" r="1.65" fill="#a2d5e7" stroke="#5a7c86" stroke-width="0.95"/>
<circle cx="1052.58" cy="514.7" r="1.65" fill="#a2d5e7" stroke="#5a7c86" stroke-width="0.95"/>
<circle cx="1052.58" cy="515.9" r="1.65" fill="#a2d5e7" stroke="#5a7c86" stroke-width="0.95"/>
<circle cx="1052.58" cy="517.9" r="1.65" fill="#a2d5e7" stroke="#5a7c86" stroke-width="0.95"/>
<circle cx="1052.58" cy="519.2" r="1.65" fill="#a2d5e7" stroke="#5a7c86" stroke-width="0.95"/>
<circle cx="1052.58" cy="520.5" r="1.65" fill="#a2d5e7" stroke="#5a7c86" stroke-width="0.95"/>
<circle cx="1052.58" cy="521.6" r="1.65" fill="#a2d5e7" stroke="#5a7c86" stroke-width="0.95"/>
<circle cx="1052.58" cy="523.9" r="1.65" fill="#a2d5e7" stroke="#5a7c86" stroke-width="0.95"/>
<circle cx="1052.58" cy="525.0" r="1.65" fill="#a2d5e7" stroke="#5a7c86" stroke-width="0.95"/>
<circle cx="1052.58" cy="526.3" r="1.65" fill="#a2d5e7" stroke="#5a7c86" stroke-width="0.95"/>
<circle cx="1052.58" cy="527.8" r="1.65" fill="#a2d5e7" stroke="#5a7c86" stroke-width="0.95"/>
<circle cx="1052.58" cy="529.9" r="1.65" fill="#a2d5e7" stroke="#5a7c86" stroke-width="0.95"/>
<circle cx="1052.58" cy="530.8" r="1.65" fill="#a2d5e7" stroke="#5a7c86" stroke-width="0.95"/>
<circle cx="1052.58" cy="532.2" r="1.65" fill="#a2d5e7" stroke="#5a7c86" stroke-width="0.95"/>
<circle cx="1052.58" cy="533.7" r="1.65" fill="#a2d5e7" stroke="#5a7c86" stroke-width="0.95"/>
<line x1="1129.53" y1="569.8" x2="1129.53" y2="545.3" stroke="#000" stroke-width="1.6"/>
<line x1="1129.53" y1="586.7" x2="1129.53" y2="588.2" stroke="#000" stroke-width="1.6"/>
<line x1="1119.91" y1="545.3" x2="1139.14" y2="545.3" stroke="#000" stroke-width="1.4" stroke-linecap="square"/>
<line x1="1119.91" y1="588.2" x2="1139.14" y2="588.2" stroke="#000" stroke-width="1.4" stroke-linecap="square"/>
<rect x="1110.29" y="569.8" width="38.48" height="16.90" fill="#add8e6" stroke="#000" stroke-width="1.6"/>
<line x1="1110.29" y1="581.6" x2="1148.76" y2="581.6" stroke="#ff7f0e" stroke-width="4.8"/>
<circle cx="1129.53" cy="323" r="1.65" fill="#a2d5e7" stroke="#5a7c86" stroke-width="0.95"/>
<circle cx="1129.53" cy="386.5" r="1.65" fill="#a2d5e7" stroke="#5a7c86" stroke-width="0.95"/>
<circle cx="1129.53" cy="389.5" r="1.65" fill="#a2d5e7" stroke="#5a7c86" stroke-width="0.95"/>
<circle cx="1129.53" cy="391.5" r="1.65" fill="#a2d5e7" stroke="#5a7c86" stroke-width="0.95"/>
<circle cx="1129.53" cy="393.9" r="1.65" fill="#a2d5e7" stroke="#5a7c86" stroke-width="0.95"/>
<circle cx="1129.53" cy="420.1" r="1.65" fill="#a2d5e7" stroke="#5a7c86" stroke-width="0.95"/>
<circle cx="1129.53" cy="427.9" r="1.65" fill="#a2d5e7" stroke="#5a7c86" stroke-width="0.95"/>
<circle cx="1129.53" cy="430.6" r="1.65" fill="#a2d5e7" stroke="#5a7c86" stroke-width="0.95"/>
<circle cx="1129.53" cy="435.3" r="1.65" fill="#a2d5e7" stroke="#5a7c86" stroke-width="0.95"/>
<circle cx="1129.53" cy="439.6" r="1.65" fill="#a2d5e7" stroke="#5a7c86" stroke-width="0.95"/>
<circle cx="1129.53" cy="445.3" r="1.65" fill="#a2d5e7" stroke="#5a7c86" stroke-width="0.95"/>
<circle cx="1129.53" cy="452.7" r="1.65" fill="#a2d5e7" stroke="#5a7c86" stroke-width="0.95"/>
<circle cx="1129.53" cy="455.4" r="1.65" fill="#a2d5e7" stroke="#5a7c86" stroke-width="0.95"/>
<circle cx="1129.53" cy="460.5" r="1.65" fill="#a2d5e7" stroke="#5a7c86" stroke-width="0.95"/>
<circle cx="1129.53" cy="477.6" r="1.65" fill="#a2d5e7" stroke="#5a7c86" stroke-width="0.95"/>
<circle cx="1129.53" cy="481.7" r="1.65" fill="#a2d5e7" stroke="#5a7c86" stroke-width="0.95"/>
<circle cx="1129.53" cy="485.6" r="1.65" fill="#a2d5e7" stroke="#5a7c86" stroke-width="0.95"/>
<circle cx="1129.53" cy="489.4" r="1.65" fill="#a2d5e7" stroke="#5a7c86" stroke-width="0.95"/>
<circle cx="1129.53" cy="491.6" r="1.65" fill="#a2d5e7" stroke="#5a7c86" stroke-width="0.95"/>
<circle cx="1129.53" cy="494.2" r="1.65" fill="#a2d5e7" stroke="#5a7c86" stroke-width="0.95"/>
<circle cx="1129.53" cy="496.5" r="1.65" fill="#a2d5e7" stroke="#5a7c86" stroke-width="0.95"/>
<circle cx="1129.53" cy="500.0" r="1.65" fill="#a2d5e7" stroke="#5a7c86" stroke-width="0.95"/>
<circle cx="1129.53" cy="503.5" r="1.65" fill="#a2d5e7" stroke="#5a7c86" stroke-width="0.95"/>
<circle cx="1129.53" cy="505.2" r="1.65" fill="#a2d5e7" stroke="#5a7c86" stroke-width="0.95"/>
<circle cx="1129.53" cy="506.9" r="1.65" fill="#a2d5e7" stroke="#5a7c86" stroke-width="0.95"/>
<circle cx="1129.53" cy="508.6" r="1.65" fill="#a2d5e7" stroke="#5a7c86" stroke-width="0.95"/>
<circle cx="1129.53" cy="510.4" r="1.65" fill="#a2d5e7" stroke="#5a7c86" stroke-width="0.95"/>
<circle cx="1129.53" cy="512.6" r="1.65" fill="#a2d5e7" stroke="#5a7c86" stroke-width="0.95"/>
<circle cx="1129.53" cy="514.9" r="1.65" fill="#a2d5e7" stroke="#5a7c86" stroke-width="0.95"/>
<circle cx="1129.53" cy="516.6" r="1.65" fill="#a2d5e7" stroke="#5a7c86" stroke-width="0.95"/>
<circle cx="1129.53" cy="517.7" r="1.65" fill="#a2d5e7" stroke="#5a7c86" stroke-width="0.95"/>
<circle cx="1129.53" cy="519.6" r="1.65" fill="#a2d5e7" stroke="#5a7c86" stroke-width="0.95"/>
<circle cx="1129.53" cy="521.3" r="1.65" fill="#a2d5e7" stroke="#5a7c86" stroke-width="0.95"/>
<circle cx="1129.53" cy="523.4" r="1.65" fill="#a2d5e7" stroke="#5a7c86" stroke-width="0.95"/>
<circle cx="1129.53" cy="526.0" r="1.65" fill="#a2d5e7" stroke="#5a7c86" stroke-width="0.95"/>
<circle cx="1129.53" cy="528.1" r="1.65" fill="#a2d5e7" stroke="#5a7c86" stroke-width="0.95"/>
<circle cx="1129.53" cy="529.9" r="1.65" fill="#a2d5e7" stroke="#5a7c86" stroke-width="0.95"/>
<circle cx="1129.53" cy="531.8" r="1.65" fill="#a2d5e7" stroke="#5a7c86" stroke-width="0.95"/>
<circle cx="1129.53" cy="533.7" r="1.65" fill="#a2d5e7" stroke="#5a7c86" stroke-width="0.95"/>
<circle cx="1129.53" cy="534.7" r="1.65" fill="#a2d5e7" stroke="#5a7c86" stroke-width="0.95"/>
<circle cx="1129.53" cy="536.8" r="1.65" fill="#a2d5e7" stroke="#5a7c86" stroke-width="0.95"/>
<circle cx="1129.53" cy="538.7" r="1.65" fill="#a2d5e7" stroke="#5a7c86" stroke-width="0.95"/>
<circle cx="1129.53" cy="540.6" r="1.65" fill="#a2d5e7" stroke="#5a7c86" stroke-width="0.95"/>
<circle cx="1129.53" cy="542.4" r="1.65" fill="#a2d5e7" stroke="#5a7c86" stroke-width="0.95"/>
<circle cx="1129.53" cy="543.7" r="1.65" fill="#a2d5e7" stroke="#5a7c86" stroke-width="0.95"/>
<line x1="1206.47" y1="567.0" x2="1206.47" y2="539.1" stroke="#000" stroke-width="1.6"/>
<line x1="1206.47" y1="586.7" x2="1206.47" y2="588.2" stroke="#000" stroke-width="1.6"/>
<line x1="1196.86" y1="539.1" x2="1216.09" y2="539.1" stroke="#000" stroke-width="1.4" stroke-linecap="square"/>
<line x1="1196.86" y1="588.2" x2="1216.09" y2="588.2" stroke="#000" stroke-width="1.4" stroke-linecap="square"/>
<rect x="1187.24" y="567.0" width="38.48" height="19.70" fill="#add8e6" stroke="#000" stroke-width="1.6"/>
<line x1="1187.24" y1="581.0" x2="1225.71" y2="581.0" stroke="#ff7f0e" stroke-width="4.8"/>
<circle cx="1206.47" cy="129.7" r="1.65" fill="#a2d5e7" stroke="#5a7c86" stroke-width="0.95"/>
<circle cx="1206.47" cy="230.3" r="1.65" fill="#a2d5e7" stroke="#5a7c86" stroke-width="0.95"/>
<circle cx="1206.47" cy="337.1" r="1.65" fill="#a2d5e7" stroke="#5a7c86" stroke-width="0.95"/>
<circle cx="1206.47" cy="347.5" r="1.65" fill="#a2d5e7" stroke="#5a7c86" stroke-width="0.95"/>
<circle cx="1206.47" cy="394.9" r="1.65" fill="#a2d5e7" stroke="#5a7c86" stroke-width="0.95"/>
<circle cx="1206.47" cy="401" r="1.65" fill="#a2d5e7" stroke="#5a7c86" stroke-width="0.95"/>
<circle cx="1206.47" cy="416.1" r="1.65" fill="#a2d5e7" stroke="#5a7c86" stroke-width="0.95"/>
<circle cx="1206.47" cy="419.4" r="1.65" fill="#a2d5e7" stroke="#5a7c86" stroke-width="0.95"/>
<circle cx="1206.47" cy="424.5" r="1.65" fill="#a2d5e7" stroke="#5a7c86" stroke-width="0.95"/>
<circle cx="1206.47" cy="428" r="1.65" fill="#a2d5e7" stroke="#5a7c86" stroke-width="0.95"/>
<circle cx="1206.47" cy="431.2" r="1.65" fill="#a2d5e7" stroke="#5a7c86" stroke-width="0.95"/>
<circle cx="1206.47" cy="438" r="1.65" fill="#a2d5e7" stroke="#5a7c86" stroke-width="0.95"/>
<circle cx="1206.47" cy="441.3" r="1.65" fill="#a2d5e7" stroke="#5a7c86" stroke-width="0.95"/>
<circle cx="1206.47" cy="447.4" r="1.65" fill="#a2d5e7" stroke="#5a7c86" stroke-width="0.95"/>
<circle cx="1206.47" cy="454.8" r="1.65" fill="#a2d5e7" stroke="#5a7c86" stroke-width="0.95"/>
<circle cx="1206.47" cy="462.2" r="1.65" fill="#a2d5e7" stroke="#5a7c86" stroke-width="0.95"/>
<circle cx="1206.47" cy="468" r="1.65" fill="#a2d5e7" stroke="#5a7c86" stroke-width="0.95"/>
<circle cx="1206.47" cy="469.9" r="1.65" fill="#a2d5e7" stroke="#5a7c86" stroke-width="0.95"/>
<circle cx="1206.47" cy="473.2" r="1.65" fill="#a2d5e7" stroke="#5a7c86" stroke-width="0.95"/>
<circle cx="1206.47" cy="475.0" r="1.65" fill="#a2d5e7" stroke="#5a7c86" stroke-width="0.95"/>
<circle cx="1206.47" cy="476.7" r="1.65" fill="#a2d5e7" stroke="#5a7c86" stroke-width="0.95"/>
<circle cx="1206.47" cy="478.8" r="1.65" fill="#a2d5e7" stroke="#5a7c86" stroke-width="0.95"/>
<circle cx="1206.47" cy="480.7" r="1.65" fill="#a2d5e7" stroke="#5a7c86" stroke-width="0.95"/>
<circle cx="1206.47" cy="483.0" r="1.65" fill="#a2d5e7" stroke="#5a7c86" stroke-width="0.95"/>
<circle cx="1206.47" cy="484.6" r="1.65" fill="#a2d5e7" stroke="#5a7c86" stroke-width="0.95"/>
<circle cx="1206.47" cy="486.0" r="1.65" fill="#a2d5e7" stroke="#5a7c86" stroke-width="0.95"/>
<circle cx="1206.47" cy="487.8" r="1.65" fill="#a2d5e7" stroke="#5a7c86" stroke-width="0.95"/>
<circle cx="1206.47" cy="489.4" r="1.65" fill="#a2d5e7" stroke="#5a7c86" stroke-width="0.95"/>
<circle cx="1206.47" cy="491.6" r="1.65" fill="#a2d5e7" stroke="#5a7c86" stroke-width="0.95"/>
<circle cx="1206.47" cy="492.9" r="1.65" fill="#a2d5e7" stroke="#5a7c86" stroke-width="0.95"/>
<circle cx="1206.47" cy="496.2" r="1.65" fill="#a2d5e7" stroke="#5a7c86" stroke-width="0.95"/>
<circle cx="1206.47" cy="498.7" r="1.65" fill="#a2d5e7" stroke="#5a7c86" stroke-width="0.95"/>
<circle cx="1206.47" cy="500.3" r="1.65" fill="#a2d5e7" stroke="#5a7c86" stroke-width="0.95"/>
<circle cx="1206.47" cy="502.0" r="1.65" fill="#a2d5e7" stroke="#5a7c86" stroke-width="0.95"/>
<circle cx="1206.47" cy="503.9" r="1.65" fill="#a2d5e7" stroke="#5a7c86" stroke-width="0.95"/>
<circle cx="1206.47" cy="505.7" r="1.65" fill="#a2d5e7" stroke="#5a7c86" stroke-width="0.95"/>
<circle cx="1206.47" cy="507.1" r="1.65" fill="#a2d5e7" stroke="#5a7c86" stroke-width="0.95"/>
<circle cx="1206.47" cy="509.8" r="1.65" fill="#a2d5e7" stroke="#5a7c86" stroke-width="0.95"/>
<circle cx="1206.47" cy="512.7" r="1.65" fill="#a2d5e7" stroke="#5a7c86" stroke-width="0.95"/>
<circle cx="1206.47" cy="514.6" r="1.65" fill="#a2d5e7" stroke="#5a7c86" stroke-width="0.95"/>
<circle cx="1206.47" cy="516.4" r="1.65" fill="#a2d5e7" stroke="#5a7c86" stroke-width="0.95"/>
<circle cx="1206.47" cy="517.6" r="1.65" fill="#a2d5e7" stroke="#5a7c86" stroke-width="0.95"/>
<circle cx="1206.47" cy="518.7" r="1.65" fill="#a2d5e7" stroke="#5a7c86" stroke-width="0.95"/>
<circle cx="1206.47" cy="520.3" r="1.65" fill="#a2d5e7" stroke="#5a7c86" stroke-width="0.95"/>
<circle cx="1206.47" cy="521.6" r="1.65" fill="#a2d5e7" stroke="#5a7c86" stroke-width="0.95"/>
<circle cx="1206.47" cy="523.8" r="1.65" fill="#a2d5e7" stroke="#5a7c86" stroke-width="0.95"/>
<circle cx="1206.47" cy="525.0" r="1.65" fill="#a2d5e7" stroke="#5a7c86" stroke-width="0.95"/>
<circle cx="1206.47" cy="525.9" r="1.65" fill="#a2d5e7" stroke="#5a7c86" stroke-width="0.95"/>
<circle cx="1206.47" cy="528.2" r="1.65" fill="#a2d5e7" stroke="#5a7c86" stroke-width="0.95"/>
<circle cx="1206.47" cy="529.8" r="1.65" fill="#a2d5e7" stroke="#5a7c86" stroke-width="0.95"/>
<circle cx="1206.47" cy="530.8" r="1.65" fill="#a2d5e7" stroke="#5a7c86" stroke-width="0.95"/>
<circle cx="1206.47" cy="532.4" r="1.65" fill="#a2d5e7" stroke="#5a7c86" stroke-width="0.95"/>
<circle cx="1206.47" cy="533.2" r="1.65" fill="#a2d5e7" stroke="#5a7c86" stroke-width="0.95"/>
<circle cx="1206.47" cy="534.7" r="1.65" fill="#a2d5e7" stroke="#5a7c86" stroke-width="0.95"/>
<circle cx="1206.47" cy="536.6" r="1.65" fill="#a2d5e7" stroke="#5a7c86" stroke-width="0.95"/>
<circle cx="1206.47" cy="538.4" r="1.65" fill="#a2d5e7" stroke="#5a7c86" stroke-width="0.95"/>
<line x1="1283.42" y1="564.7" x2="1283.42" y2="533.2" stroke="#000" stroke-width="1.6"/>
<line x1="1283.42" y1="586.7" x2="1283.42" y2="588.2" stroke="#000" stroke-width="1.6"/>
<line x1="1273.81" y1="533.2" x2="1293.04" y2="533.2" stroke="#000" stroke-width="1.4" stroke-linecap="square"/>
<line x1="1273.81" y1="588.2" x2="1293.04" y2="588.2" stroke="#000" stroke-width="1.4" stroke-linecap="square"/>
<rect x="1264.19" y="564.7" width="38.47" height="22.00" fill="#add8e6" stroke="#000" stroke-width="1.6"/>
<line x1="1264.19" y1="581.6" x2="1302.66" y2="581.6" stroke="#ff7f0e" stroke-width="4.8"/>
<circle cx="1283.42" cy="221.3" r="1.65" fill="#a2d5e7" stroke="#5a7c86" stroke-width="0.95"/>
<circle cx="1283.42" cy="328.7" r="1.65" fill="#a2d5e7" stroke="#5a7c86" stroke-width="0.95"/>
<circle cx="1283.42" cy="347.5" r="1.65" fill="#a2d5e7" stroke="#5a7c86" stroke-width="0.95"/>
<circle cx="1283.42" cy="426.2" r="1.65" fill="#a2d5e7" stroke="#5a7c86" stroke-width="0.95"/>
<circle cx="1283.42" cy="429.5" r="1.65" fill="#a2d5e7" stroke="#5a7c86" stroke-width="0.95"/>
<circle cx="1283.42" cy="435.3" r="1.65" fill="#a2d5e7" stroke="#5a7c86" stroke-width="0.95"/>
<circle cx="1283.42" cy="437.6" r="1.65" fill="#a2d5e7" stroke="#5a7c86" stroke-width="0.95"/>
<circle cx="1283.42" cy="440.3" r="1.65" fill="#a2d5e7" stroke="#5a7c86" stroke-width="0.95"/>
<circle cx="1283.42" cy="454.8" r="1.65" fill="#a2d5e7" stroke="#5a7c86" stroke-width="0.95"/>
<circle cx="1283.42" cy="458.1" r="1.65" fill="#a2d5e7" stroke="#5a7c86" stroke-width="0.95"/>
<circle cx="1283.42" cy="470.6" r="1.65" fill="#a2d5e7" stroke="#5a7c86" stroke-width="0.95"/>
<circle cx="1283.42" cy="477.6" r="1.65" fill="#a2d5e7" stroke="#5a7c86" stroke-width="0.95"/>
<circle cx="1283.42" cy="481" r="1.65" fill="#a2d5e7" stroke="#5a7c86" stroke-width="0.95"/>
<circle cx="1283.42" cy="485" r="1.65" fill="#a2d5e7" stroke="#5a7c86" stroke-width="0.95"/>
<circle cx="1283.42" cy="492.8" r="1.65" fill="#a2d5e7" stroke="#5a7c86" stroke-width="0.95"/>
<circle cx="1283.42" cy="500" r="1.65" fill="#a2d5e7" stroke="#5a7c86" stroke-width="0.95"/>
<circle cx="1283.42" cy="502.4" r="1.65" fill="#a2d5e7" stroke="#5a7c86" stroke-width="0.95"/>
<circle cx="1283.42" cy="504.9" r="1.65" fill="#a2d5e7" stroke="#5a7c86" stroke-width="0.95"/>
<circle cx="1283.42" cy="506.8" r="1.65" fill="#a2d5e7" stroke="#5a7c86" stroke-width="0.95"/>
<circle cx="1283.42" cy="510.1" r="1.65" fill="#a2d5e7" stroke="#5a7c86" stroke-width="0.95"/>
<circle cx="1283.42" cy="512.7" r="1.65" fill="#a2d5e7" stroke="#5a7c86" stroke-width="0.95"/>
<circle cx="1283.42" cy="515.6" r="1.65" fill="#a2d5e7" stroke="#5a7c86" stroke-width="0.95"/>
<circle cx="1283.42" cy="517.4" r="1.65" fill="#a2d5e7" stroke="#5a7c86" stroke-width="0.95"/>
<circle cx="1283.42" cy="519.0" r="1.65" fill="#a2d5e7" stroke="#5a7c86" stroke-width="0.95"/>
<circle cx="1283.42" cy="521.6" r="1.65" fill="#a2d5e7" stroke="#5a7c86" stroke-width="0.95"/>
<circle cx="1283.42" cy="524.3" r="1.65" fill="#a2d5e7" stroke="#5a7c86" stroke-width="0.95"/>
<circle cx="1283.42" cy="526.6" r="1.65" fill="#a2d5e7" stroke="#5a7c86" stroke-width="0.95"/>
<circle cx="1283.42" cy="528.6" r="1.65" fill="#a2d5e7" stroke="#5a7c86" stroke-width="0.95"/>
<circle cx="1283.42" cy="530.6" r="1.65" fill="#a2d5e7" stroke="#5a7c86" stroke-width="0.95"/>
<circle cx="1283.42" cy="532.3" r="1.65" fill="#a2d5e7" stroke="#5a7c86" stroke-width="0.95"/>
<line x1="1360.38" y1="563.9" x2="1360.38" y2="531.0" stroke="#000" stroke-width="1.6"/>
<line x1="1360.38" y1="586.6" x2="1360.38" y2="588.2" stroke="#000" stroke-width="1.6"/>
<line x1="1350.76" y1="531.0" x2="1369.99" y2="531.0" stroke="#000" stroke-width="1.4" stroke-linecap="square"/>
<line x1="1350.76" y1="588.2" x2="1369.99" y2="588.2" stroke="#000" stroke-width="1.4" stroke-linecap="square"/>
<rect x="1341.14" y="563.9" width="38.47" height="22.70" fill="#add8e6" stroke="#000" stroke-width="1.6"/>
<line x1="1341.14" y1="581.5" x2="1379.61" y2="581.5" stroke="#ff7f0e" stroke-width="4.8"/>
<circle cx="1360.38" cy="269" r="1.65" fill="#a2d5e7" stroke="#5a7c86" stroke-width="0.95"/>
<circle cx="1360.38" cy="328.7" r="1.65" fill="#a2d5e7" stroke="#5a7c86" stroke-width="0.95"/>
<circle cx="1360.38" cy="347.5" r="1.65" fill="#a2d5e7" stroke="#5a7c86" stroke-width="0.95"/>
<circle cx="1360.38" cy="427.9" r="1.65" fill="#a2d5e7" stroke="#5a7c86" stroke-width="0.95"/>
<circle cx="1360.38" cy="431.2" r="1.65" fill="#a2d5e7" stroke="#5a7c86" stroke-width="0.95"/>
<circle cx="1360.38" cy="434.6" r="1.65" fill="#a2d5e7" stroke="#5a7c86" stroke-width="0.95"/>
<circle cx="1360.38" cy="437.9" r="1.65" fill="#a2d5e7" stroke="#5a7c86" stroke-width="0.95"/>
<circle cx="1360.38" cy="449" r="1.65" fill="#a2d5e7" stroke="#5a7c86" stroke-width="0.95"/>
<circle cx="1360.38" cy="458.8" r="1.65" fill="#a2d5e7" stroke="#5a7c86" stroke-width="0.95"/>
<circle cx="1360.38" cy="462.2" r="1.65" fill="#a2d5e7" stroke="#5a7c86" stroke-width="0.95"/>
<circle cx="1360.38" cy="468.2" r="1.65" fill="#a2d5e7" stroke="#5a7c86" stroke-width="0.95"/>
<circle cx="1360.38" cy="471.6" r="1.65" fill="#a2d5e7" stroke="#5a7c86" stroke-width="0.95"/>
<circle cx="1360.38" cy="475" r="1.65" fill="#a2d5e7" stroke="#5a7c86" stroke-width="0.95"/>
<circle cx="1360.38" cy="478.3" r="1.65" fill="#a2d5e7" stroke="#5a7c86" stroke-width="0.95"/>
<circle cx="1360.38" cy="481.7" r="1.65" fill="#a2d5e7" stroke="#5a7c86" stroke-width="0.95"/>
<circle cx="1360.38" cy="488.4" r="1.65" fill="#a2d5e7" stroke="#5a7c86" stroke-width="0.95"/>
<circle cx="1360.38" cy="494.1" r="1.65" fill="#a2d5e7" stroke="#5a7c86" stroke-width="0.95"/>
<circle cx="1360.38" cy="501" r="1.65" fill="#a2d5e7" stroke="#5a7c86" stroke-width="0.95"/>
<circle cx="1360.38" cy="504.0" r="1.65" fill="#a2d5e7" stroke="#5a7c86" stroke-width="0.95"/>
<circle cx="1360.38" cy="506.5" r="1.65" fill="#a2d5e7" stroke="#5a7c86" stroke-width="0.95"/>
<circle cx="1360.38" cy="508.1" r="1.65" fill="#a2d5e7" stroke="#5a7c86" stroke-width="0.95"/>
<circle cx="1360.38" cy="509.5" r="1.65" fill="#a2d5e7" stroke="#5a7c86" stroke-width="0.95"/>
<circle cx="1360.38" cy="511.6" r="1.65" fill="#a2d5e7" stroke="#5a7c86" stroke-width="0.95"/>
<circle cx="1360.38" cy="513.4" r="1.65" fill="#a2d5e7" stroke="#5a7c86" stroke-width="0.95"/>
<circle cx="1360.38" cy="516.1" r="1.65" fill="#a2d5e7" stroke="#5a7c86" stroke-width="0.95"/>
<circle cx="1360.38" cy="519.1" r="1.65" fill="#a2d5e7" stroke="#5a7c86" stroke-width="0.95"/>
<circle cx="1360.38" cy="521.0" r="1.65" fill="#a2d5e7" stroke="#5a7c86" stroke-width="0.95"/>
<circle cx="1360.38" cy="523.5" r="1.65" fill="#a2d5e7" stroke="#5a7c86" stroke-width="0.95"/>
<circle cx="1360.38" cy="526.0" r="1.65" fill="#a2d5e7" stroke="#5a7c86" stroke-width="0.95"/>
<circle cx="1360.38" cy="528.2" r="1.65" fill="#a2d5e7" stroke="#5a7c86" stroke-width="0.95"/>
<circle cx="1360.38" cy="529.5" r="1.65" fill="#a2d5e7" stroke="#5a7c86" stroke-width="0.95"/>
<circle cx="1360.38" cy="530.5" r="1.65" fill="#a2d5e7" stroke="#5a7c86" stroke-width="0.95"/>
<line x1="1437.32" y1="558.5" x2="1437.32" y2="519.7" stroke="#000" stroke-width="1.6"/>
<line x1="1437.32" y1="586.6" x2="1437.32" y2="588.2" stroke="#000" stroke-width="1.6"/>
<line x1="1427.71" y1="519.7" x2="1446.94" y2="519.7" stroke="#000" stroke-width="1.4" stroke-linecap="square"/>
<line x1="1427.71" y1="588.2" x2="1446.94" y2="588.2" stroke="#000" stroke-width="1.4" stroke-linecap="square"/>
<rect x="1418.09" y="558.5" width="38.47" height="28.10" fill="#add8e6" stroke="#000" stroke-width="1.6"/>
<line x1="1418.09" y1="579.6" x2="1456.56" y2="579.6" stroke="#ff7f0e" stroke-width="4.8"/>
<circle cx="1437.32" cy="213.0" r="1.65" fill="#a2d5e7" stroke="#5a7c86" stroke-width="0.95"/>
<circle cx="1437.32" cy="251.3" r="1.65" fill="#a2d5e7" stroke="#5a7c86" stroke-width="0.95"/>
<circle cx="1437.32" cy="344.5" r="1.65" fill="#a2d5e7" stroke="#5a7c86" stroke-width="0.95"/>
<circle cx="1437.32" cy="347.5" r="1.65" fill="#a2d5e7" stroke="#5a7c86" stroke-width="0.95"/>
<circle cx="1437.32" cy="391.6" r="1.65" fill="#a2d5e7" stroke="#5a7c86" stroke-width="0.95"/>
<circle cx="1437.32" cy="397.5" r="1.65" fill="#a2d5e7" stroke="#5a7c86" stroke-width="0.95"/>
<circle cx="1437.32" cy="421.6" r="1.65" fill="#a2d5e7" stroke="#5a7c86" stroke-width="0.95"/>
<circle cx="1437.32" cy="431.7" r="1.65" fill="#a2d5e7" stroke="#5a7c86" stroke-width="0.95"/>
<circle cx="1437.32" cy="435" r="1.65" fill="#a2d5e7" stroke="#5a7c86" stroke-width="0.95"/>
<circle cx="1437.32" cy="438" r="1.65" fill="#a2d5e7" stroke="#5a7c86" stroke-width="0.95"/>
<circle cx="1437.32" cy="440.5" r="1.65" fill="#a2d5e7" stroke="#5a7c86" stroke-width="0.95"/>
<circle cx="1437.32" cy="443.8" r="1.65" fill="#a2d5e7" stroke="#5a7c86" stroke-width="0.95"/>
<circle cx="1437.32" cy="454.7" r="1.65" fill="#a2d5e7" stroke="#5a7c86" stroke-width="0.95"/>
<circle cx="1437.32" cy="458" r="1.65" fill="#a2d5e7" stroke="#5a7c86" stroke-width="0.95"/>
<circle cx="1437.32" cy="461.5" r="1.65" fill="#a2d5e7" stroke="#5a7c86" stroke-width="0.95"/>
<circle cx="1437.32" cy="471.8" r="1.65" fill="#a2d5e7" stroke="#5a7c86" stroke-width="0.95"/>
<circle cx="1437.32" cy="475" r="1.65" fill="#a2d5e7" stroke="#5a7c86" stroke-width="0.95"/>
<circle cx="1437.32" cy="478.5" r="1.65" fill="#a2d5e7" stroke="#5a7c86" stroke-width="0.95"/>
<circle cx="1437.32" cy="481.4" r="1.65" fill="#a2d5e7" stroke="#5a7c86" stroke-width="0.95"/>
<circle cx="1437.32" cy="490.4" r="1.65" fill="#a2d5e7" stroke="#5a7c86" stroke-width="0.95"/>
<circle cx="1437.32" cy="493.5" r="1.65" fill="#a2d5e7" stroke="#5a7c86" stroke-width="0.95"/>
<circle cx="1437.32" cy="496.9" r="1.65" fill="#a2d5e7" stroke="#5a7c86" stroke-width="0.95"/>
<circle cx="1437.32" cy="500.2" r="1.65" fill="#a2d5e7" stroke="#5a7c86" stroke-width="0.95"/>
<circle cx="1437.32" cy="505" r="1.65" fill="#a2d5e7" stroke="#5a7c86" stroke-width="0.95"/>
<circle cx="1437.32" cy="507" r="1.65" fill="#a2d5e7" stroke="#5a7c86" stroke-width="0.95"/>
<circle cx="1437.32" cy="512.7" r="1.65" fill="#a2d5e7" stroke="#5a7c86" stroke-width="0.95"/>
</g>
<rect x="860.2" y="4.4" width="615.60" height="611.40" fill="none" stroke="#d9d9d9" stroke-width="1.3"/>
<line x1="898.68" y1="615.8" x2="898.68" y2="627.0" stroke="#000" stroke-width="2.45"/>
<text x="898.68" y="650.8" font-size="27.6" text-anchor="middle" letter-spacing="0.3" fill="#000">1.0</text>
<line x1="975.62" y1="615.8" x2="975.62" y2="627.0" stroke="#000" stroke-width="2.45"/>
<text x="975.62" y="650.8" font-size="27.6" text-anchor="middle" letter-spacing="0.3" fill="#000">1.07</text>
<line x1="1052.58" y1="615.8" x2="1052.58" y2="627.0" stroke="#000" stroke-width="2.45"/>
<text x="1052.58" y="650.8" font-size="27.6" text-anchor="middle" letter-spacing="0.3" fill="#000">1.14</text>
<line x1="1129.53" y1="615.8" x2="1129.53" y2="627.0" stroke="#000" stroke-width="2.45"/>
<text x="1129.53" y="650.8" font-size="27.6" text-anchor="middle" letter-spacing="0.3" fill="#000">1.23</text>
<line x1="1206.47" y1="615.8" x2="1206.47" y2="627.0" stroke="#000" stroke-width="2.45"/>
<text x="1206.47" y="650.8" font-size="27.6" text-anchor="middle" letter-spacing="0.3" fill="#000">1.33</text>
<line x1="1283.42" y1="615.8" x2="1283.42" y2="627.0" stroke="#000" stroke-width="2.45"/>
<text x="1283.42" y="650.8" font-size="27.6" text-anchor="middle" letter-spacing="0.3" fill="#000">1.45</text>
<line x1="1360.38" y1="615.8" x2="1360.38" y2="627.0" stroke="#000" stroke-width="2.45"/>
<text x="1360.38" y="650.8" font-size="27.6" text-anchor="middle" letter-spacing="0.3" fill="#000">1.6</text>
<line x1="1437.32" y1="615.8" x2="1437.32" y2="627.0" stroke="#000" stroke-width="2.45"/>
<text x="1437.32" y="650.8" font-size="27.6" text-anchor="middle" letter-spacing="0.3" fill="#000">1.78</text>
<line x1="849.0" y1="588.30" x2="860.2" y2="588.30" stroke="#000" stroke-width="2.45"/>
<text x="847.0" y="599.20" font-size="27.6" text-anchor="end" fill="#000">0</text>
<line x1="849.0" y1="493.95" x2="860.2" y2="493.95" stroke="#000" stroke-width="2.45"/>
<text x="847.0" y="504.85" font-size="27.6" text-anchor="end" fill="#000">1</text>
<line x1="849.0" y1="399.60" x2="860.2" y2="399.60" stroke="#000" stroke-width="2.45"/>
<text x="847.0" y="410.50" font-size="27.6" text-anchor="end" fill="#000">2</text>
<line x1="849.0" y1="305.25" x2="860.2" y2="305.25" stroke="#000" stroke-width="2.45"/>
<text x="847.0" y="316.15" font-size="27.6" text-anchor="end" fill="#000">3</text>
<line x1="849.0" y1="210.90" x2="860.2" y2="210.90" stroke="#000" stroke-width="2.45"/>
<text x="847.0" y="221.80" font-size="27.6" text-anchor="end" fill="#000">4</text>
<line x1="849.0" y1="116.55" x2="860.2" y2="116.55" stroke="#000" stroke-width="2.45"/>
<text x="847.0" y="127.45" font-size="27.6" text-anchor="end" fill="#000">5</text>
<line x1="849.0" y1="22.20" x2="860.2" y2="22.20" stroke="#000" stroke-width="2.45"/>
<text x="847.0" y="33.10" font-size="27.6" text-anchor="end" fill="#000">6</text>
<text x="1167" y="683" font-size="33.3" text-anchor="middle" fill="#000"><tspan font-style="italic">g</tspan><tspan font-style="italic" font-size="22.6" dy="5">m</tspan></text>
<text transform="translate(820.4,424.0) rotate(-90)" font-size="31.6" fill="#000"><tspan x="0">Δ</tspan><tspan font-style="italic" x="22.0 42.9 67.5">SNR</tspan><tspan font-style="italic" font-size="22.0" x="89.9 112.0 118.7" dy="5.0">min</tspan><tspan x="135 145.3 154.1 174 186.5 206.8" dy="-5.0"> in dB</tspan></text>
<text transform="translate(290.1,769) scale(0.95,1)" x="0" y="0" font-size="53" text-anchor="middle" fill="#000">a</text>
<text transform="translate(1154.3,767) scale(0.96,1)" x="0" y="0" font-size="53" text-anchor="middle" fill="#000">b</text>
</svg>
</body></html>
